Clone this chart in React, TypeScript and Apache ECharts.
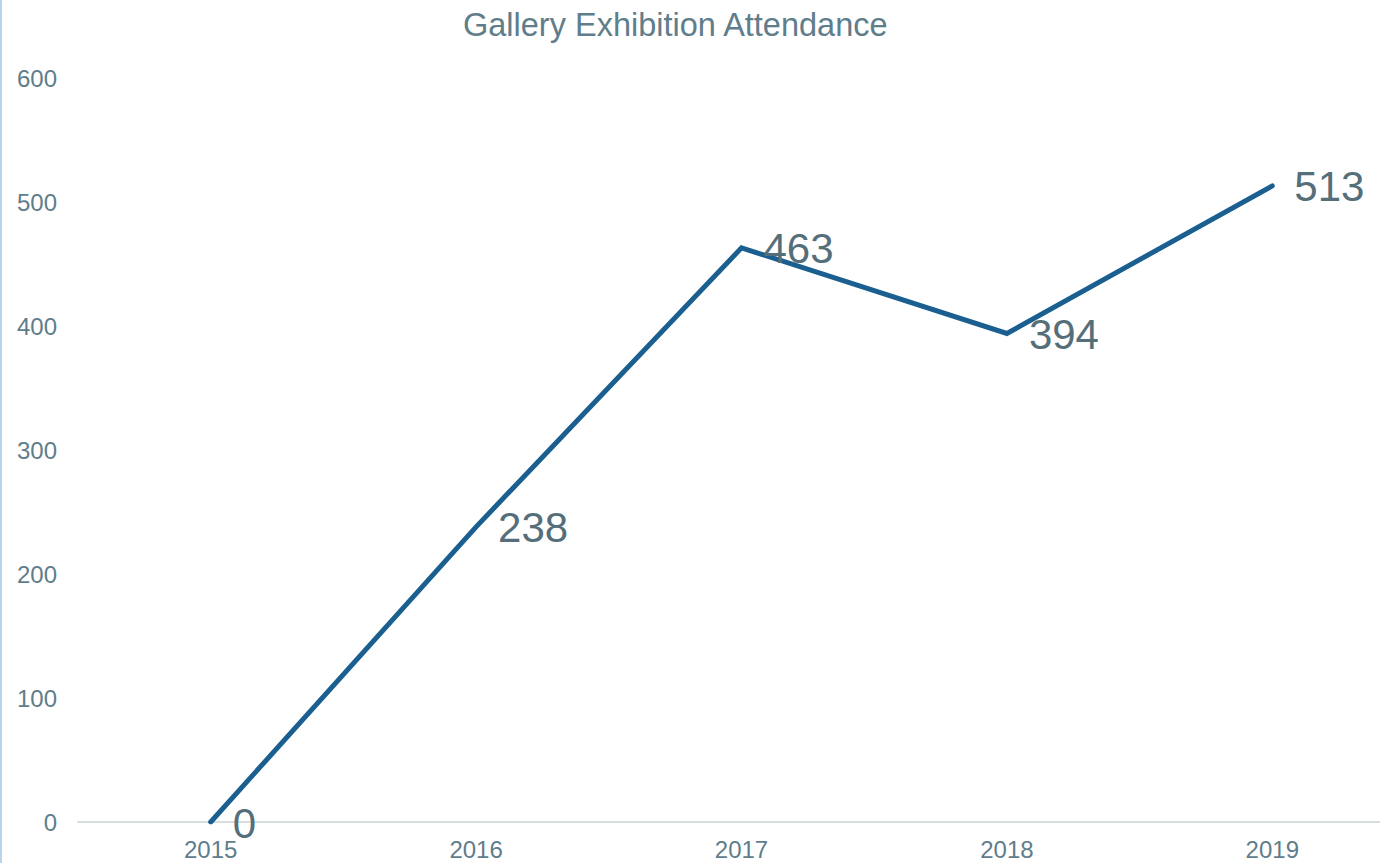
import React, { useEffect, useRef } from "react";
import * as echarts from "echarts";

const years = ["2015", "2016", "2017", "2018", "2019"];
const attendance = [0, 238, 463, 394, 513];
const yTicks = { min: 0, max: 600, interval: 100 };
const titleText = "Gallery Exhibition Attendance";

const FONT = "'Liberation Sans', Arial, sans-serif";

export default function App() {
  const ref = useRef<HTMLDivElement>(null);
  useEffect(() => {
    if (!ref.current) return;
    const chart = echarts.init(ref.current, null, { renderer: "svg" });
    chart.setOption({
      animation: false,
      backgroundColor: "#ffffff",
      title: {
        text: titleText,
        left: 458,
        top: 3,
        textStyle: { fontFamily: FONT, fontSize: 32.5, fontWeight: "normal", color: "#607D8B" },
      },
      graphic: [
        { type: "rect", left: 0, top: 0, shape: { width: 2, height: 863 }, style: { fill: "#b9d5ea" } },
      ],
      grid: { left: 78, right: 0, top: 78, bottom: 41, containLabel: false },
      xAxis: {
        type: "category",
        data: years,
        boundaryGap: true,
        axisLine: { show: true, lineStyle: { color: "#d8dde0", width: 2 } },
        axisTick: { show: false },
        axisLabel: { fontFamily: FONT, fontSize: 24, color: "#607D8B", margin: 15 },
        splitLine: { show: false },
      },
      yAxis: {
        type: "value",
        min: yTicks.min,
        max: yTicks.max,
        interval: yTicks.interval,
        axisLine: { show: false },
        axisTick: { show: false },
        splitLine: { show: false },
        axisLabel: { fontFamily: FONT, fontSize: 24, color: "#607D8B", margin: 21 },
      },
      series: [
        {
          type: "line",
          data: attendance,
          showSymbol: true,
          symbol: "circle",
          symbolSize: 2,
          lineStyle: { color: "#1a5f8f", width: 5, cap: "round", join: "miter" },
          itemStyle: { color: "#1a5f8f" },
          label: {
            show: true,
            position: "right",
            distance: 21,
            offset: [0, 1],
            fontFamily: FONT,
            fontSize: 42,
            color: "#546E7A",
          },
        },
      ],
    });
    return () => chart.dispose();
  }, []);
  return (
    <div
      ref={ref}
      style={{ position: "fixed", left: 0, top: 0, width: 1405, height: 863 }}
    />
  );
}
